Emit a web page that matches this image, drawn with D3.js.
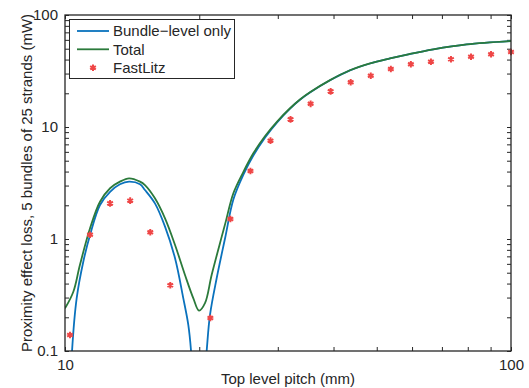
<!DOCTYPE html>
<html>
<head>
<meta charset="utf-8">
<script src="https://cdn.jsdelivr.net/npm/d3@7"></script>
<style>
body { margin: 0; background: #fff; }
text { font-family: "Liberation Sans", Arial, sans-serif; fill: #262626; }
</style>
</head>
<body>
<script>
var w = 529;
var h = 388;

// FastLitz points
var pitchFL = [10.26, 11.38, 12.62, 14.00, 15.53, 17.22, 21.18, 23.49, 26.05, 28.89, 32.04, 35.54, 39.41, 43.71, 48.48, 53.77, 59.63, 66.14, 73.35, 81.35, 90.22, 100];
var lossFL = [0.139, 1.09, 2.08, 2.20, 1.15, 0.386, 0.197, 1.51, 4.05, 7.55, 11.7, 16.1, 20.8, 25.1, 28.7, 32.9, 36.3, 38.3, 40.2, 42.4, 44.6, 46.8];

// Total curve
var pitchTotal = [10.0, 10.44, 10.80, 11.38, 11.98, 12.62, 13.28, 13.92, 14.73, 15.11, 15.91, 16.76, 17.65, 18.58, 19.40, 19.98, 20.60, 21.32, 22.46, 22.9, 23.85, 25.12, 26.44, 28.1, 29.96, 31.96, 33.64, 35.42, 39.29, 43.55, 48.30, 53.55, 58.85, 66.97, 79.56, 100];
var lossTotal = [0.240, 0.338, 0.586, 1.246, 2.15, 2.84, 3.25, 3.48, 3.25, 3.03, 2.31, 1.53, 0.884, 0.477, 0.295, 0.229, 0.267, 0.477, 1.05, 1.4, 2.56, 3.98, 5.82, 8.31, 11.3, 14.7, 17.6, 20.4, 26.2, 32.1, 37.0, 41.0, 44.6, 49.4, 54.7, 58.6];

// Bundle-level only curve (dips below the axis twice)
var pitchBundle = [10.25, 10.37, 10.62, 10.99, 11.38, 11.98, 12.62, 13.28, 13.92, 14.73, 15.11, 15.91, 16.76, 17.65, 18.42, 18.90, 19.17, 19.5, 19.87, 20.3, 20.78, 21.14, 21.88, 22.85, 23.85, 25.12, 26.44, 28.1, 29.96, 31.96, 33.64, 35.42, 39.29, 43.55, 48.30, 53.55, 58.85, 66.97, 79.56, 100];
var lossBundle = [0.03, 0.1, 0.295, 0.627, 1.086, 2.01, 2.64, 3.08, 3.25, 3.08, 2.74, 2.08, 1.29, 0.673, 0.295, 0.171, 0.1, 0.03, 0.003, 0.03, 0.1, 0.21, 0.446, 1.015, 2.25, 3.75, 5.55, 8.05, 11.1, 14.6, 17.5, 20.3, 26.1, 32.0, 36.9, 40.9, 44.5, 49.3, 54.6, 58.5];

var xTicks = [10, 20, 30, 40, 50, 60, 70, 80, 90, 100];
var xLabels = [10, 100];
var yTicks = [];
[0.1, 1, 10].forEach(function(d) {
	for (var k = 1; k < 10; k++) yTicks.push(d * k);
});
yTicks.push(100);
var yLabels = [0.1, 1, 10, 100];

var legendNames = ["Bundle\u2212level only", "Total", "FastLitz"];
var blue = "#0a72bd";
var green = "#2b7a3b";
var red = "#ef4646";
var axisCol = "#262626";

var pl = 65, pr = 511, pt = 15, pb = 351;

var x = d3.scaleLog().domain([10, 100]).range([pl, pr]);
var y = d3.scaleLog().domain([0.1, 100]).range([pb, pt]);

var svg = d3.select("body").append("svg")
	.attr("width", w)
	.attr("height", h);

svg.append("clipPath").attr("id", "clip")
	.append("rect")
	.attr("x", pl).attr("y", pt)
	.attr("width", pr - pl).attr("height", pb - pt);

function fmt(list) {
	return function(d) {
		return list.some(function(v) { return Math.abs(v - d) < 1e-9; }) ? String(+d.toPrecision(3)) : "";
	};
}

// inward ticks on all four sides
function styleAxis(g) {
	g.select(".domain").remove();
	g.selectAll("line").attr("stroke", axisCol);
	g.selectAll("text").attr("font-size", 15).attr("fill", axisCol)
		.style("font-family", "'Liberation Sans', Arial, sans-serif");
}

svg.append("g").attr("transform", "translate(0," + pb + ")")
	.call(d3.axisBottom(x).tickValues(xTicks).tickSizeInner(-4).tickSizeOuter(0).tickPadding(8).tickFormat(fmt(xLabels)))
	.call(styleAxis);
svg.append("g").attr("transform", "translate(0," + pt + ")")
	.call(d3.axisTop(x).tickValues(xTicks).tickSizeInner(-4).tickSizeOuter(0).tickFormat(""))
	.call(styleAxis);
svg.append("g").attr("transform", "translate(" + pl + ",0)")
	.call(d3.axisLeft(y).tickValues(yTicks).tickSizeInner(-4).tickSizeOuter(0).tickPadding(7).tickFormat(fmt(yLabels)))
	.call(styleAxis);
svg.append("g").attr("transform", "translate(" + pr + ",0)")
	.call(d3.axisRight(y).tickValues(yTicks).tickSizeInner(-4).tickSizeOuter(0).tickFormat(""))
	.call(styleAxis);

var line = d3.line()
	.x(function(d) { return x(d[0]); })
	.y(function(d) { return y(d[1]); })
	.curve(d3.curveCatmullRom.alpha(0.5));

var plot = svg.append("g").attr("clip-path", "url(#clip)");

plot.append("path")
	.datum(d3.zip(pitchBundle, lossBundle))
	.attr("d", line)
	.attr("fill", "none")
	.attr("stroke", blue)
	.attr("stroke-width", 1.8);

plot.append("path")
	.datum(d3.zip(pitchTotal, lossTotal))
	.attr("d", line)
	.attr("fill", "none")
	.attr("stroke", green)
	.attr("stroke-width", 1.8);

var star = d3.symbol().type(d3.symbolAsterisk).size(30);

svg.append("g").selectAll("path")
	.data(d3.zip(pitchFL, lossFL))
	.enter().append("path")
	.attr("transform", function(d) { return "translate(" + x(d[0]) + "," + y(d[1]) + ")"; })
	.attr("d", star)
	.attr("fill", "none")
	.attr("stroke", red)
	.attr("stroke-width", 2);

// frame
svg.append("rect")
	.attr("x", pl).attr("y", pt)
	.attr("width", pr - pl).attr("height", pb - pt)
	.attr("fill", "none")
	.attr("stroke", axisCol)
	.attr("stroke-width", 1.3);

// axis titles
svg.append("text")
	.attr("x", (pl + pr) / 2)
	.attr("y", 384)
	.attr("text-anchor", "middle")
	.attr("font-size", 15)
	.text("Top level pitch (mm)");

svg.append("text")
	.attr("transform", "translate(32," + (pt + pb) / 2 + ") rotate(-90)")
	.attr("text-anchor", "middle")
	.attr("font-size", 15)
	.text("Proximity effect loss, 5 bundles of 25 strands (mW)");

// legend
var leg = svg.append("g");
leg.append("rect")
	.attr("x", 69.5).attr("y", 19.5)
	.attr("width", 165).attr("height", 59)
	.attr("fill", "#fff")
	.attr("stroke", axisCol)
	.attr("stroke-width", 1);

var legY = [31, 49.3, 67.7];
var legCol = [blue, green, red];
legendNames.forEach(function(name, i) {
	if (i < 2) {
		leg.append("line")
			.attr("x1", 77).attr("x2", 109)
			.attr("y1", legY[i]).attr("y2", legY[i])
			.attr("stroke", legCol[i])
			.attr("stroke-width", 1.8);
	} else {
		leg.append("path")
			.attr("transform", "translate(93," + legY[i] + ")")
			.attr("d", star)
			.attr("fill", "none")
			.attr("stroke", red)
			.attr("stroke-width", 2);
	}
	leg.append("text")
		.attr("x", 113)
		.attr("y", legY[i] + 5.3)
		.attr("font-size", 15)
		.text(name);
});
</script>
</body>
</html>
